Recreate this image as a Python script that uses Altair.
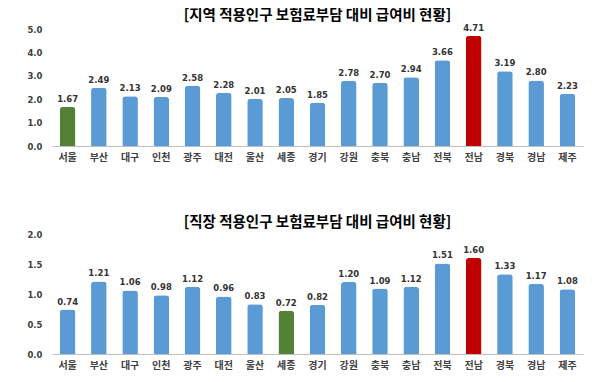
import altair as alt
import pandas as pd

regions = ["서울", "부산", "대구", "인천", "광주", "대전", "울산", "세종", "경기",
           "강원", "충북", "충남", "전북", "전남", "경북", "경남", "제주"]
top_values = [1.67, 2.49, 2.13, 2.09, 2.58, 2.28, 2.01, 2.05, 1.85,
              2.78, 2.70, 2.94, 3.66, 4.71, 3.19, 2.80, 2.23]
bottom_values = [0.74, 1.21, 1.06, 0.98, 1.12, 0.96, 0.83, 0.72, 0.82,
                 1.20, 1.09, 1.12, 1.51, 1.60, 1.33, 1.17, 1.08]
top_title = "[지역 적용인구 보험료부담 대비 급여비 현황]"
bottom_title = "[직장 적용인구 보험료부담 대비 급여비 현황]"
top_ticks = [0, 1, 2, 3, 4, 5]
bottom_ticks = [0, 0.5, 1.0, 1.5, 2.0]

BLUE = "#5B9BD5"
GREEN = "#538135"
RED = "#C00000"


def panel(values, green_region, title, ticks, h):
    colors = []
    for r in regions:
        if r == green_region:
            colors.append(GREEN)
        elif r == "전남":
            colors.append(RED)
        else:
            colors.append(BLUE)
    df = pd.DataFrame({"region": regions, "value": values, "color": colors})
    x = alt.X("region:N", sort=regions, title=None,
              scale=alt.Scale(paddingInner=0.5, paddingOuter=0.25),
              axis=alt.Axis(labelAngle=0, labelFont="Noto Sans CJK KR", labelFontSize=10,
                            labelFontWeight="bold", labelColor="#404040", labelPadding=6,
                            ticks=False, domainColor="#BFBFBF", domainWidth=1))
    y = alt.Y("value:Q", title=None,
              scale=alt.Scale(domain=[ticks[0], ticks[-1]], nice=False),
              axis=alt.Axis(values=ticks, tickCount=len(ticks), format=".1f",
                            labelFont="DejaVu Sans",
                            labelFontSize=8.5, labelFontWeight="bold", labelColor="#404040",
                            labelPadding=10, ticks=False, domain=False, grid=False,
                            labelOverlap=False, labelSeparation=0))
    base = alt.Chart(df)
    bars = base.mark_bar(cornerRadiusTopLeft=3, cornerRadiusTopRight=3).encode(
        x=x, y=y, color=alt.Color("color:N", scale=None))
    text = base.mark_text(dy=-8, font="DejaVu Sans", fontSize=8.5, fontWeight="bold",
                          color="#333333").encode(
        x=x, y=y,
        text=alt.Text("value:Q", format=".2f"))
    return (bars + text).properties(
        width=531, height=h,
        title=alt.TitleParams(title, font="Noto Sans CJK KR", fontSize=14.5,
                              fontWeight="bold", color="#000000", anchor="middle",
                              offset=1, dy=1))


chart = alt.vconcat(
    panel(top_values, "서울", top_title, top_ticks, 117),
    panel(bottom_values, "세종", bottom_title, bottom_ticks, 120),
    spacing=52,
).properties(
    padding={"left": 18, "top": 0, "right": 5, "bottom": 0},
    background="white",
).configure_view(stroke=None).configure_axis(labelOverlap=False)

chart.save("out.html", embed_options={"renderer": "svg", "actions": False})
